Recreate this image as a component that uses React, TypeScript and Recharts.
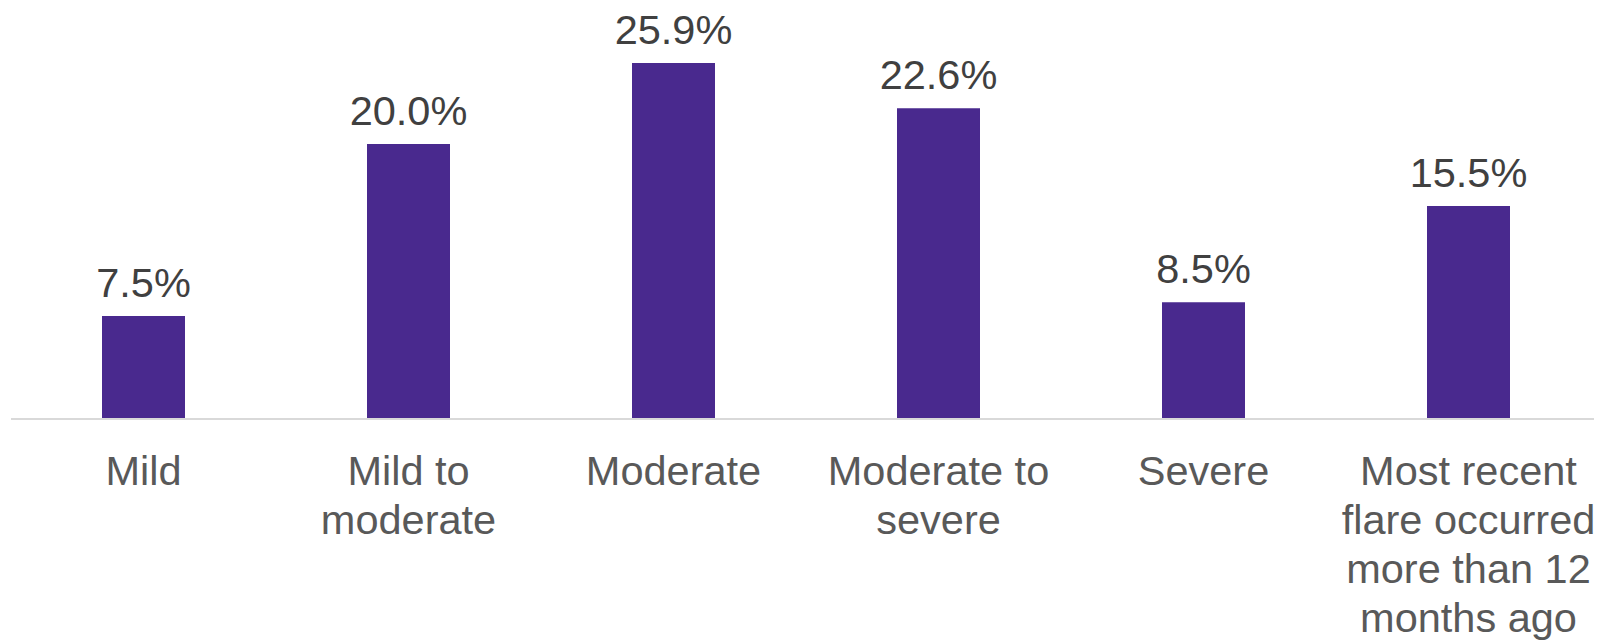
import React from "react";
import { BarChart, Bar, XAxis, YAxis, LabelList } from "recharts";

const categories = [
  "Mild",
  "Mild to moderate",
  "Moderate",
  "Moderate to severe",
  "Severe",
  "Most recent flare occurred more than 12 months ago",
];
const values = [7.5, 20.0, 25.9, 22.6, 8.5, 15.5];
const tickLines: string[][] = [
  ["Mild"],
  ["Mild to", "moderate"],
  ["Moderate"],
  ["Moderate to", "severe"],
  ["Severe"],
  ["Most recent", "flare occurred", "more than 12", "months ago"],
];

const data = categories.map((c, i) => ({ name: c, value: values[i], idx: i }));

const FONT = "'Liberation Sans', Arial, sans-serif";

const CatTick = (props: any) => {
  const { x, y, payload } = props;
  const lines = tickLines[payload.index] || [payload.value];
  return (
    <text
      x={x}
      y={y}
      textAnchor="middle"
      fill="#595959"
      fontSize={41.5}
      fontFamily={FONT}
    >
      {lines.map((l, i) => (
        <tspan key={i} x={x} dy={i === 0 ? 66 : 49}>
          {l}
        </tspan>
      ))}
    </text>
  );
};

const ValueLabel = (props: any) => {
  const { x, y, width, value } = props;
  return (
    <text
      x={Number(x) + Number(width) / 2}
      y={Number(y) - 19}
      textAnchor="middle"
      fill="#404040"
      fontSize={41.5}
      fontFamily={FONT}
    >
      {Number(value).toFixed(1)}%
    </text>
  );
};

export default function App() {
  return (
    <div style={{ width: 1594, height: 640, marginTop: -8, background: "#fff" }}>
      <BarChart
        width={1594}
        height={640}
        data={data}
        margin={{ top: 34, right: 1, bottom: 0, left: 3 }}
      >
        <XAxis
          dataKey="name"
          interval={0}
          height={221}
          tickLine={false}
          tickSize={0}
          tickMargin={0}
          axisLine={{ stroke: "#D9D9D9", strokeWidth: 2 }}
          tick={<CatTick />}
        />
        <YAxis hide domain={[0, 28]} />
        <Bar dataKey="value" fill="#49298E" barSize={83} isAnimationActive={false}>
          <LabelList dataKey="value" content={<ValueLabel />} />
        </Bar>
      </BarChart>
    </div>
  );
}
